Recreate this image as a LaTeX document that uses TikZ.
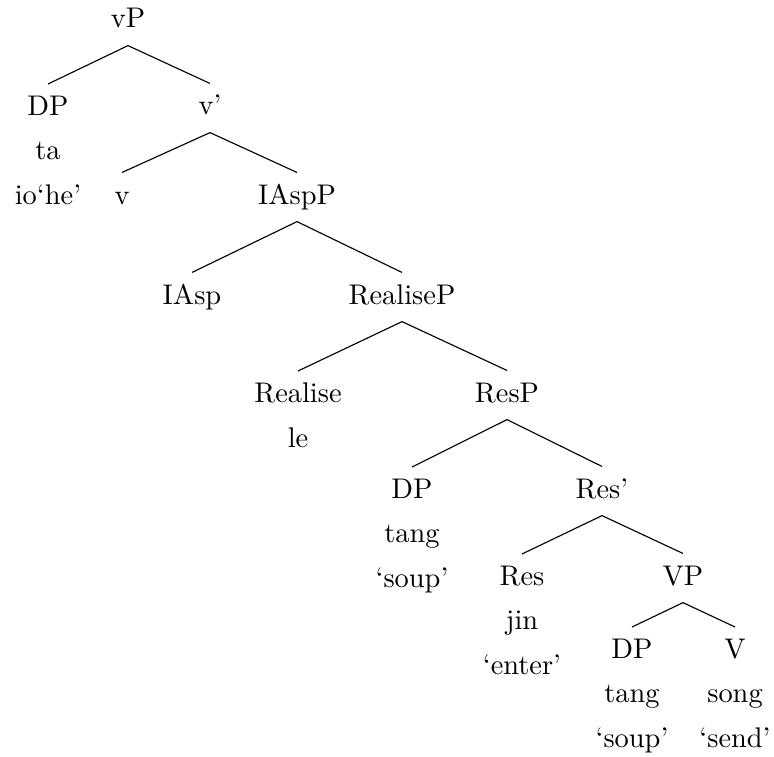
\documentclass[tikz,border=0pt]{standalone}
\begin{document}
\begin{tikzpicture}[x=0.352pt, y=-0.352pt,
        cat/.style={anchor=base, inner ysep=4pt, text height=6.9pt, text depth=2pt},
        leaf/.style={anchor=north, inner ysep=4pt, align=center, font=\fontsize{10pt}{15.7pt}\selectfont}]
        \useasboundingbox (0,0) rectangle (774,756);

        % Các nút trung gian (đặt theo đường cơ sở của chữ)
        \node[cat] (vp) at (128,28) {vP};
        \node[cat] (vbar) at (210,115) {v'};
        \node[cat] (iaspp) at (297,204) {IAspP};
        \node[cat] (realp) at (402,304) {RealiseP};
        \node[cat] (resp) at (507,402) {ResP};
        \node[cat] (resbar) at (602,498) {Res'};
        \node[cat] (bigvp) at (683,585) {VP};

        % Các nút lá một dòng
        \node[cat] (vhead) at (122,204) {v};
        \node[cat] (iasp) at (192,304) {IAsp};

        % Các nút lá nhiều dòng (đặt theo mép trên)
        \node[leaf] (dpsubj) at (48,84) {DP\\ta\\io`he'};
        \node[leaf] (real) at (298,371) {Realise\\le};
        \node[leaf] (dpres) at (412,467) {DP\\tang\\`soup'};
        \node[leaf] (res) at (522,554) {Res\\jin\\`enter'};
        \node[leaf] (dpobj) at (632,627) {DP\\tang\\`soup'};
        \node[leaf] (verb) at (735,627) {V\\song\\`send'};

        % Các nhánh
        \draw (vp.south) -- (dpsubj.north);
        \draw (vp.south) -- (vbar.north);
        \draw (vbar.south) -- (vhead.north);
        \draw (vbar.south) -- (iaspp.north);
        \draw (iaspp.south) -- (iasp.north);
        \draw (iaspp.south) -- (realp.north);
        \draw (realp.south) -- (real.north);
        \draw (realp.south) -- (resp.north);
        \draw (resp.south) -- (dpres.north);
        \draw (resp.south) -- (resbar.north);
        \draw (resbar.south) -- (res.north);
        \draw (resbar.south) -- (bigvp.north);
        \draw (bigvp.south) -- (dpobj.north);
        \draw (bigvp.south) -- (verb.north);
    \end{tikzpicture}
\end{document}
